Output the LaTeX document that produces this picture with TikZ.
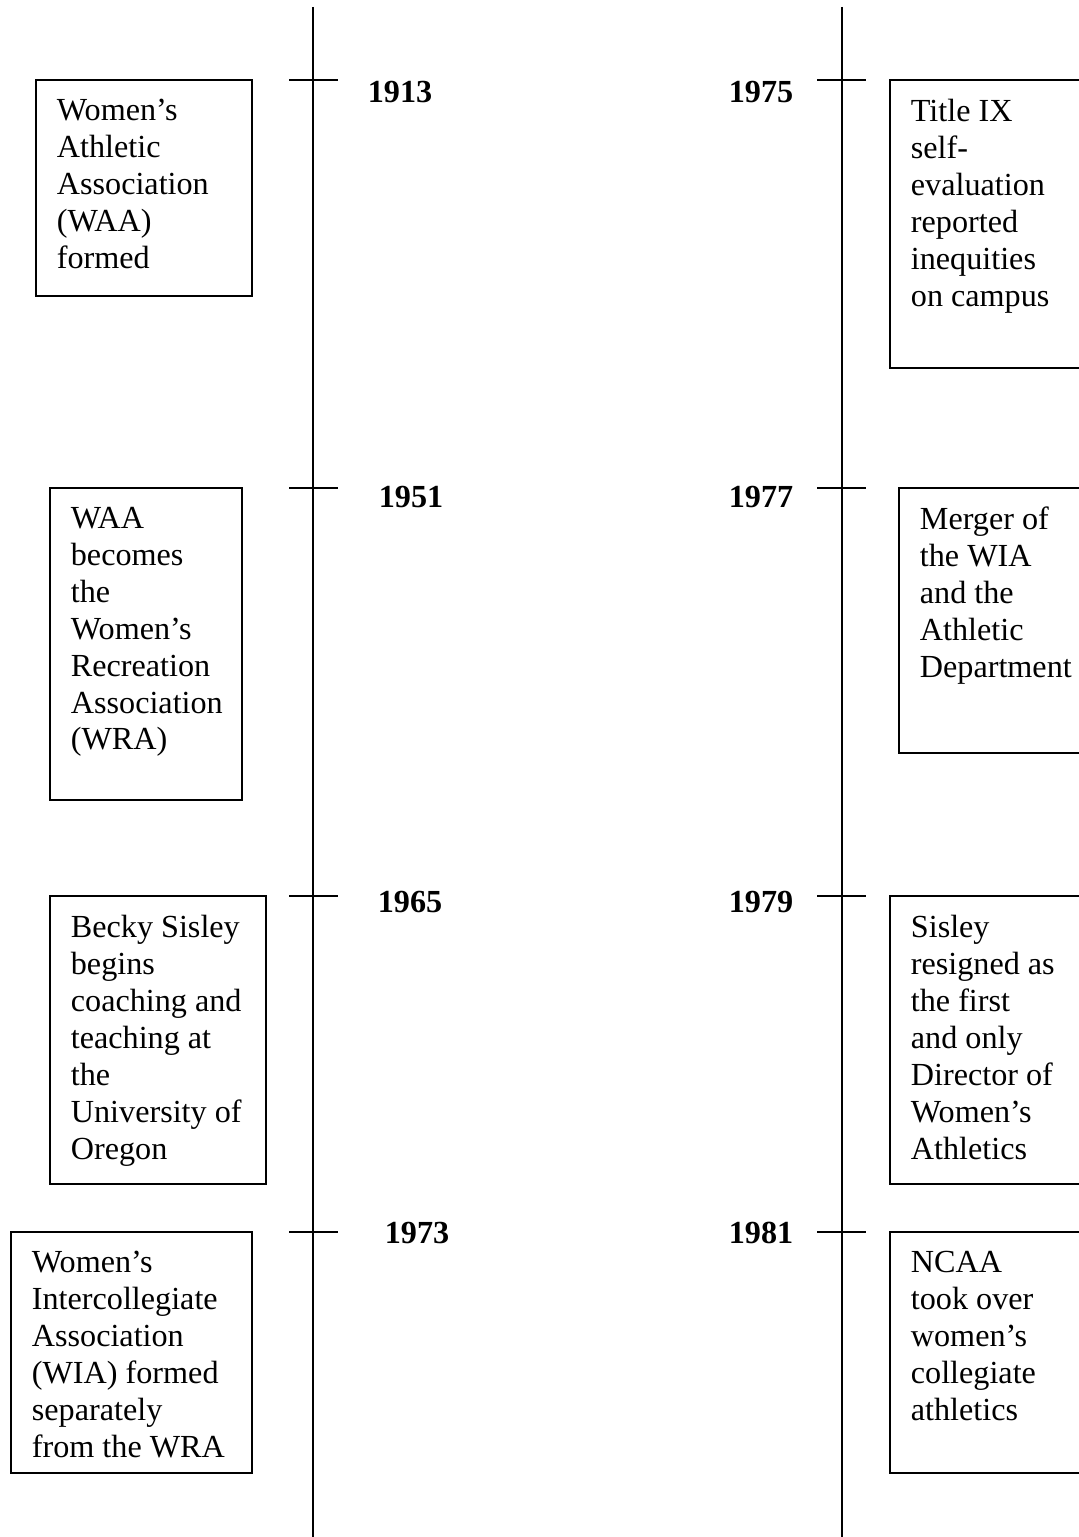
\documentclass[tikz,border=0pt]{standalone}
\usepackage{fontspec}
\setmainfont{Liberation Serif}
\usetikzlibrary{positioning,fit}

\begin{document}
\begin{tikzpicture}[
        x=0.373pt, y=-0.373pt,
        line width=0.75pt,
        node distance=7pt and 7.8pt,
        evbox/.style={draw, inner sep=0pt, line width=0.75pt},
        evtext/.style={inner sep=0pt, align=left, font=\fontsize{12}{13.8}\selectfont},
        year/.style={inner sep=0pt, anchor=base, font=\fontsize{12}{13.8}\selectfont\bfseries},
    ]
    \clip (0,0) rectangle (1079,1537);

    % time axes
    \coordinate (ltop) at (313,7);
    \coordinate (lbot) at (313,1540);
    \coordinate (rtop) at (842,7);
    \coordinate (rbot) at (842,1540);
    \draw (ltop) -- (lbot);
    \draw (rtop) -- (rbot);
    \foreach \y in {80,488,896,1232} {
        \draw (289,\y) -- (338,\y);
        \draw (817,\y) -- (866,\y);
    }

    % years
    \node[year] (y1913) at (400,103) {1913};
    \node[year] (y1951) at (411,507) {1951};
    \node[year] (y1965) at (410,912) {1965};
    \node[year] (y1973) at (417,1243) {1973};
    \node[year] (y1975) at (761,103) {1975};
    \node[year] (y1977) at (761,507) {1977};
    \node[year] (y1979) at (761,912) {1979};
    \node[year] (y1981) at (761,1243) {1981};

    % left events
    \node[evbox, fit={(36,80) (252,296)}] (waa) {};
    \node[evtext, below right=of waa.north west] (waatext)
        {Women’s\\Athletic\\Association\\(WAA)\\formed};
    \node[evbox, fit={(50,488) (242,800)}] (wra) {};
    \node[evtext, below right=of wra.north west] (wratext)
        {WAA\\becomes\\the\\Women’s\\Recreation\\Association\\(WRA)};
    \node[evbox, fit={(50,896) (266,1184)}] (sisley) {};
    \node[evtext, below right=of sisley.north west] (sisleytext)
        {Becky Sisley\\begins\\coaching and\\teaching at\\the\\University of\\Oregon};
    \node[evbox, fit={(11,1232) (252,1473)}] (wia) {};
    \node[evtext, below right=of wia.north west] (wiatext)
        {Women’s\\Intercollegiate\\Association\\(WIA) formed\\separately\\from the WRA};

    % right events
    \node[evbox, fit={(890,80) (1095,368)}] (titleix) {};
    \node[evtext, below right=of titleix.north west] (titleixtext)
        {Title IX\\self-\\evaluation\\reported\\inequities\\on campus};
    \node[evbox, fit={(899,488) (1095,753)}] (merger) {};
    \node[evtext, below right=of merger.north west] (mergertext)
        {Merger of\\the WIA\\and the\\Athletic\\Department};
    \node[evbox, fit={(890,896) (1095,1184)}] (resign) {};
    \node[evtext, below right=of resign.north west] (resigntext)
        {Sisley\\resigned as\\the first\\and only\\Director of\\Women’s\\Athletics};
    \node[evbox, fit={(890,1232) (1095,1473)}] (ncaa) {};
    \node[evtext, below right=of ncaa.north west] (ncaatext)
        {NCAA\\took over\\women’s\\collegiate\\athletics};
\end{tikzpicture}
\end{document}
